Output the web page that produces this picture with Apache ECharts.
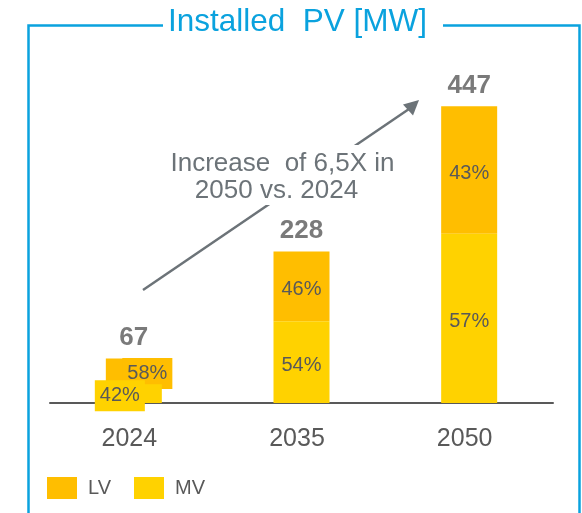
<!DOCTYPE html>
<html>
<head>
<meta charset="utf-8">
<script src="https://cdn.jsdelivr.net/npm/echarts@6/dist/echarts.min.js"></script>
<style>
html, body { margin: 0; padding: 0; background: #fff; }
#chart { width: 582px; height: 513px; }
</style>
</head>
<body>
<div id="chart"></div>
<script>
// values
const categories = ['2024', '2035', '2050'];
const totals = [67, 228, 447];
const lvShare = [58, 46, 43];
const mvShare = [42, 54, 57];

const fontFam = "'Liberation Sans', Arial, sans-serif";
const lvColor = '#FFBE00';
const mvColor = '#FFD200';
const txtGray = '#595959';
const blue = '#0AA2DE';
const arrowGray = '#6C7378';

let lvData = [];
let mvData = [];
for (let i = 0; i < categories.length; i++) {
  let lv = { value: totals[i] * lvShare[i] / 100 };
  let mv = { value: totals[i] * mvShare[i] / 100 };
  if (i === 0) {
    // small bar: labels pushed aside on coloured boxes
    lv.label = { backgroundColor: lvColor, padding: [5, 5], offset: [13.5, 2] };
    mv.label = { backgroundColor: mvColor, padding: [5, 5], offset: [-14, 2] };
  }
  lvData.push(lv);
  mvData.push(mv);
}

let pctLabel = function (shares) {
  return {
    show: true,
    position: 'inside',
    offset: [0, 3],
    color: txtGray,
    fontSize: 20,
    lineHeight: 21,
    fontFamily: fontFam,
    formatter: function (p) { return shares[p.dataIndex] + '%'; }
  };
};

let chart = echarts.init(document.getElementById('chart'));
let option = {
  animation: false,
  textStyle: { fontFamily: fontFam },
  grid: { left: 50, right: 29, top: 71, bottom: 110 },
  legend: {
    data: ['LV', 'MV'],
    left: 47,
    top: 477,
    padding: 0,
    icon: 'rect',
    itemWidth: 30,
    itemHeight: 22,
    itemGap: 23,
    textStyle: { fontSize: 20, color: txtGray, fontFamily: fontFam, padding: [0, 0, 0, 6] }
  },
  xAxis: {
    type: 'category',
    data: categories,
    axisTick: { show: false },
    axisLine: { lineStyle: { color: txtGray, width: 2 } },
    axisLabel: { fontSize: 25, color: txtGray, margin: 24, padding: [0, 9, 0, 0], fontFamily: fontFam }
  },
  yAxis: {
    type: 'value',
    min: 0,
    max: 500,
    show: false,
    splitLine: { show: false }
  },
  series: [
    {
      name: 'MV',
      type: 'bar',
      stack: 'pv',
      z: 3,
      barWidth: '33.4%',
      itemStyle: { color: mvColor },
      label: pctLabel(mvShare),
      data: mvData
    },
    {
      name: 'LV',
      type: 'bar',
      stack: 'pv',
      z: 2,
      barWidth: '33.4%',
      itemStyle: { color: lvColor },
      label: pctLabel(lvShare),
      data: lvData
    },
    {
      name: 'total',
      type: 'scatter',
      symbolSize: 1,
      z: 4,
      silent: true,
      itemStyle: { color: 'rgba(0,0,0,0)' },
      label: {
        show: true,
        position: 'top',
        distance: 7,
        fontSize: 26,
        lineHeight: 26,
        fontWeight: 'bold',
        color: txtGray,
        fontFamily: fontFam
      },
      data: totals
    }
  ],
  graphic: [
    // frame with gap for the title
    {
      type: 'polyline', z: 50,
      shape: { points: [[28.5, 520], [28.5, 25.5], [163, 25.5]] },
      style: { stroke: blue, lineWidth: 2.5, fill: null }
    },
    {
      type: 'polyline', z: 50,
      shape: { points: [[443, 25.5], [579.5, 25.5], [579.5, 520]] },
      style: { stroke: blue, lineWidth: 2.5, fill: null }
    },
    {
      type: 'text', z: 51, x: 168, y: 22,
      style: { text: 'Installed  PV [MW]', fill: blue, font: '31.5px ' + fontFam, textAlign: 'left', textVerticalAlign: 'middle' }
    },
    // growth arrow
    {
      type: 'line', z: 100,
      shape: { x1: 143, y1: 290, x2: 409, y2: 109 },
      style: { stroke: arrowGray, lineWidth: 2.5 }
    },
    {
      type: 'polygon', z: 100,
      shape: { points: [[419, 100], [403, 104.5], [413, 115.5]] },
      style: { fill: arrowGray }
    },
    {
      type: 'rect', z: 101,
      shape: { x: 166, y: 145, width: 232, height: 60 },
      style: { fill: '#fff' }
    },
    {
      type: 'text', z: 102, x: 282.5, y: 164,
      style: { text: 'Increase  of 6,5X in', fill: arrowGray, font: '26px ' + fontFam, textAlign: 'center', textVerticalAlign: 'middle' }
    },
    {
      type: 'text', z: 102, x: 276.5, y: 191,
      style: { text: '2050 vs. 2024', fill: arrowGray, font: '26px ' + fontFam, textAlign: 'center', textVerticalAlign: 'middle' }
    }
  ]
};
chart.setOption(option);
</script>
</body>
</html>
